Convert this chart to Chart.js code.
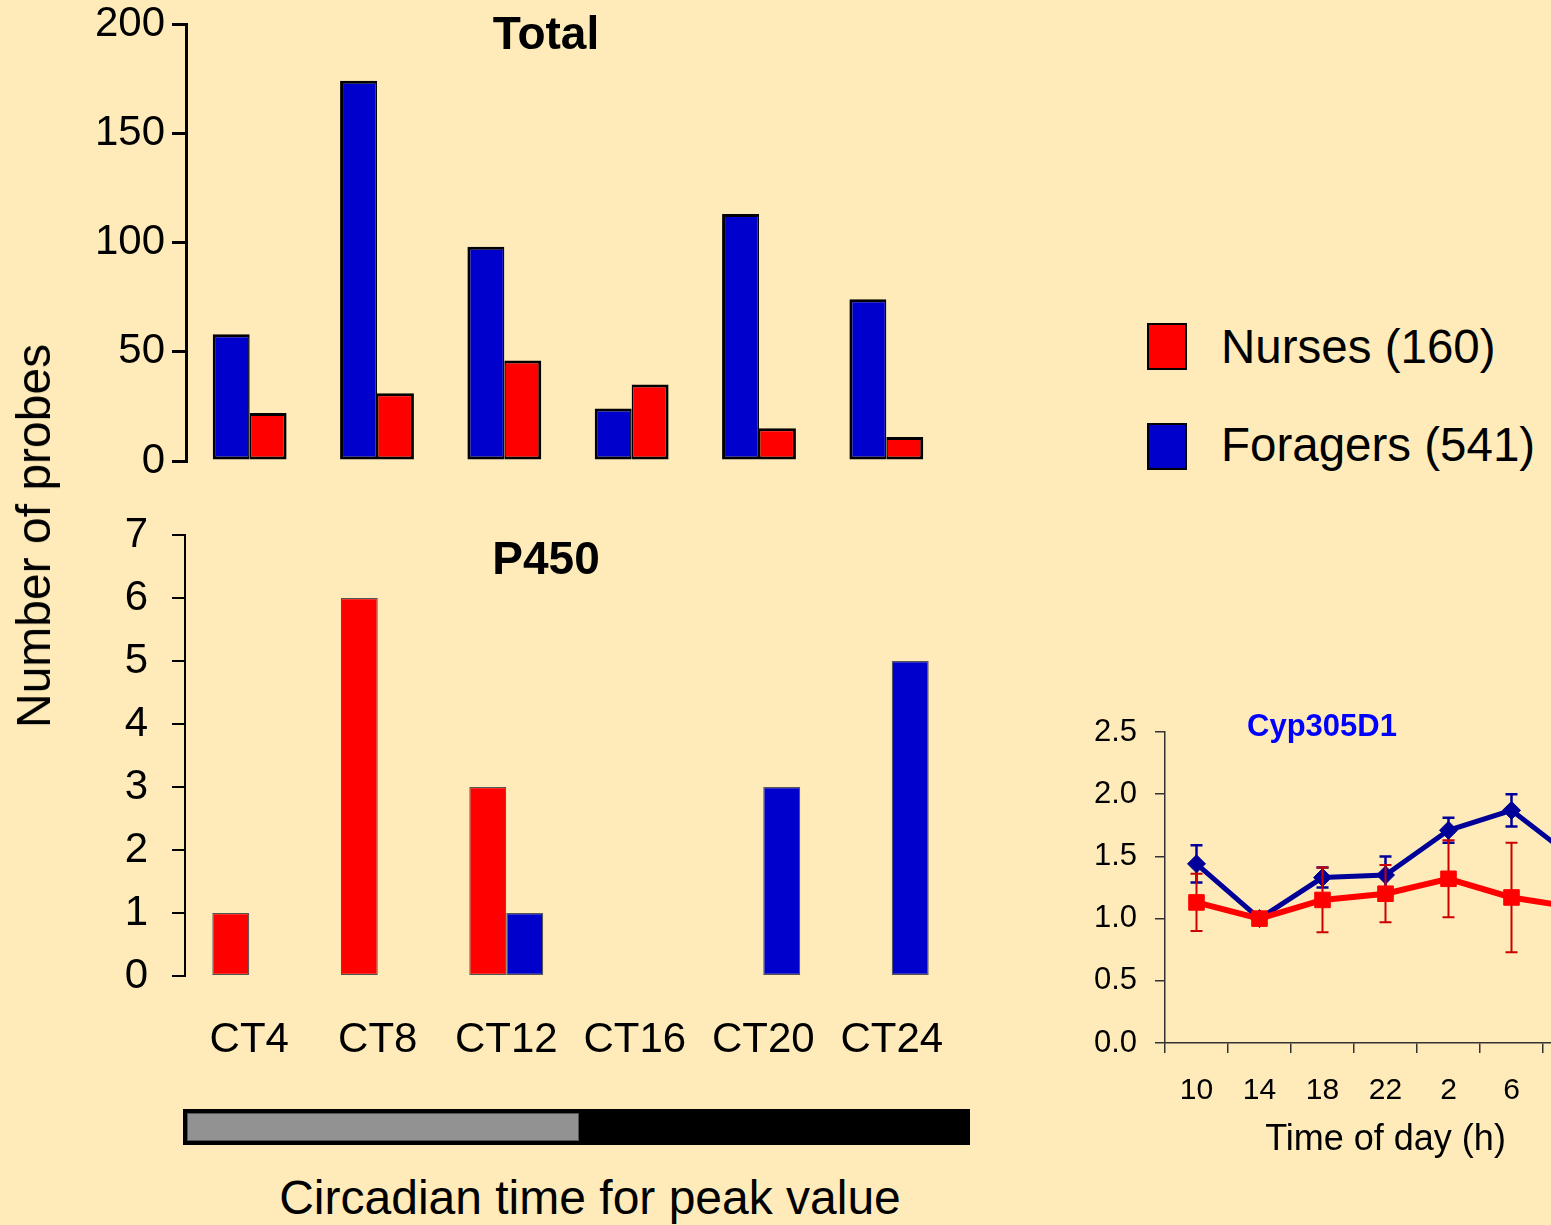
<!DOCTYPE html>
<html>
<head>
<meta charset="utf-8">
<title>Number of probes by circadian time of peak</title>
<script src="https://cdn.jsdelivr.net/npm/chart.js@4.4.1/dist/chart.umd.min.js"></script>
<style>
  html, body { margin: 0; padding: 0; overflow: hidden; background: #FEEBB9; }
  #page { position: relative; width: 1551px; height: 1225px; overflow: hidden; background: #FEEBB9;
          font-family: "Liberation Sans", Arial, sans-serif; color: #000; }
  #page canvas { position: absolute; }
  .txt { position: absolute; white-space: nowrap; line-height: 1; }
  .swatch { position: absolute; box-sizing: border-box; border: 2px solid #000; }
</style>
</head>
<body>
<div id="page">
  <canvas id="totalChart" width="960" height="480" style="left:0;top:0"></canvas>
  <canvas id="p450Chart" width="970" height="580" style="left:0;top:500px"></canvas>
  <canvas id="cypChart" width="560" height="480" style="left:1070px;top:700px"></canvas>

  <!-- light / dark phase bar under the circadian axis -->
  <div style="position:absolute;left:183px;top:1109px;width:787px;height:36px;background:#000;"></div>
  <div style="position:absolute;left:187px;top:1113px;width:392px;height:28px;background:#929292;box-sizing:border-box;border:1px solid #555;"></div>
</div>

<script>
// ---- circadian peak counts ----
const ctLabels = ['CT4', 'CT8', 'CT12', 'CT16', 'CT20', 'CT24'];
const totalNurses   = [22, 31, 46, 35, 15, 11];
const totalForagers = [58, 174, 98, 24, 113, 74];
const p450Nurses    = [1, 6, 3, 0, 0, 0];
const p450Foragers  = [0, 0, 1, 0, 3, 5];
const totalTicks = [0, 50, 100, 150, 200];
const p450Ticks  = [0, 1, 2, 3, 4, 5, 6, 7];

// ---- Cyp305D1 relative expression over the day ----
const timeLabels     = ['10', '14', '18', '22', '2', '6', '10'];
const cypNurses      = [1.13, 1.00, 1.15, 1.20, 1.32, 1.17, 1.09];
const cypNursesErr   = [0.23, 0.02, 0.26, 0.23, 0.31, 0.44, 0.20];
const cypForagers    = [1.44, 1.00, 1.33, 1.35, 1.71, 1.87, 1.48];
const cypForagersErr = [0.15, 0.03, 0.08, 0.15, 0.10, 0.13, 0.10];
const cypTicks = [0, 0.5, 1.0, 1.5, 2.0, 2.5];

const NURSE_RED = '#FF0000';
const FORAGER_BLUE = '#0000CC';
const FONT = '"Liberation Sans", Arial, sans-serif';

Chart.defaults.font.family = FONT;
Chart.defaults.color = '#000';
Chart.defaults.animation = false;

const sum = a => a.reduce((s, v) => s + v, 0);
const seriesNames = {
  nurses: `Nurses (${sum(totalNurses)})`,
  foragers: `Foragers (${sum(totalForagers)})`
};

// Pin axis thickness and drop the label overhang so plot areas line up across panels.
function fixAxis(size) {
  return function (scale) {
    scale.paddingTop = 0; scale.paddingBottom = 0;
    scale.paddingLeft = 0; scale.paddingRight = 0;
    if (size != null) {
      if (scale.isHorizontal()) scale.height = size; else scale.width = size;
    }
  };
}
const useTicks = values => scale => { scale.ticks = values.map(v => ({ value: v })); };

const noPlugins = { legend: { display: false }, tooltip: { enabled: false } };

// ---- Total panel ----
new Chart(document.getElementById('totalChart'), {
  type: 'bar',
  data: {
    labels: ctLabels,
    datasets: [
      { label: seriesNames.foragers, data: totalForagers, backgroundColor: FORAGER_BLUE,
        borderColor: '#000', borderWidth: { left: 3, top: 3, bottom: 3, right: 1.5 }, borderSkipped: false },
      { label: seriesNames.nurses, data: totalNurses, backgroundColor: NURSE_RED,
        borderColor: '#000', borderWidth: { left: 1.5, top: 3, bottom: 3, right: 3 }, borderSkipped: false }
    ]
  },
  options: {
    responsive: false,
    layout: { padding: { top: 24, bottom: 19, left: 0, right: 10 } },
    datasets: { bar: { categoryPercentage: 0.58, barPercentage: 1.0 } },
    scales: {
      x: { display: false },
      y: {
        min: totalTicks[0], max: totalTicks[totalTicks.length - 1],
        afterBuildTicks: useTicks(totalTicks),
        afterFit: fixAxis(186),
        border: { display: true, color: '#000', width: 3 },
        grid: { drawOnChartArea: false, drawTicks: true, tickLength: 14, color: '#000', lineWidth: 3 },
        ticks: { font: { size: 42 }, padding: 7, color: '#000' }
      }
    },
    plugins: noPlugins
  }
});

// ---- P450 panel ----
new Chart(document.getElementById('p450Chart'), {
  type: 'bar',
  data: {
    labels: ctLabels,
    datasets: [
      { label: seriesNames.nurses, data: p450Nurses, backgroundColor: NURSE_RED,
        borderColor: '#555', borderWidth: 1.2, borderSkipped: false },
      { label: seriesNames.foragers, data: p450Foragers, backgroundColor: FORAGER_BLUE,
        borderColor: '#555', borderWidth: 1.2, borderSkipped: false }
    ]
  },
  options: {
    responsive: false,
    layout: { padding: { top: 35, bottom: 4, left: 0, right: 14 } },
    datasets: { bar: { categoryPercentage: 0.575, barPercentage: 1.0 } },
    scales: {
      x: {
        afterFit: fixAxis(100),
        border: { display: false },
        grid: { display: false, drawTicks: false },
        ticks: { font: { size: 42 }, padding: 39, maxRotation: 0, autoSkip: false, color: '#000' }
      },
      y: {
        min: p450Ticks[0], max: p450Ticks[p450Ticks.length - 1],
        afterBuildTicks: useTicks(p450Ticks),
        afterFit: fixAxis(185),
        border: { display: true, color: '#000', width: 2 },
        grid: { drawOnChartArea: false, drawTicks: true, tickLength: 13, color: '#000', lineWidth: 2 },
        ticks: { font: { size: 42 }, padding: 24, color: '#000' }
      }
    },
    plugins: noPlugins
  }
});

// ---- Cyp305D1 time course with error bars ----
const errorBars = {
  id: 'errorBars',
  beforeDatasetDraw(chart, args) {
    const ds = chart.data.datasets[args.index];
    if (!ds.errors) return;
    const y = chart.scales.y, ctx = chart.ctx, cap = 6;
    ctx.save();
    ctx.strokeStyle = ds.errorColor;
    ctx.lineWidth = ds.errorWidth;
    args.meta.data.forEach((pt, i) => {
      const v = ds.data[i], e = ds.errors[i];
      const top = y.getPixelForValue(v + e), bot = y.getPixelForValue(v - e);
      ctx.beginPath();
      ctx.moveTo(pt.x, top); ctx.lineTo(pt.x, bot);
      ctx.moveTo(pt.x - cap, top); ctx.lineTo(pt.x + cap, top);
      ctx.moveTo(pt.x - cap, bot); ctx.lineTo(pt.x + cap, bot);
      ctx.stroke();
    });
    ctx.restore();
  }
};

new Chart(document.getElementById('cypChart'), {
  type: 'line',
  data: {
    labels: timeLabels,
    datasets: [
      { label: 'Nurses', data: cypNurses, errors: cypNursesErr, errorColor: '#CC0000', errorWidth: 2,
        borderColor: NURSE_RED, backgroundColor: NURSE_RED, borderWidth: 6,
        pointStyle: 'rect', pointRadius: 11, pointBorderWidth: 1, tension: 0 },
      { label: 'Foragers', data: cypForagers, errors: cypForagersErr, errorColor: '#000099', errorWidth: 2.5,
        borderColor: '#000099', backgroundColor: '#000099', borderWidth: 5,
        pointStyle: 'rectRot', pointRadius: 9, pointBorderWidth: 1, tension: 0 }
    ]
  },
  options: {
    responsive: false,
    layout: { padding: { top: 32, bottom: 7, left: 0, right: 24 } },
    scales: {
      x: {
        offset: true,
        afterFit: fixAxis(130),
        border: { display: true, color: '#333', width: 1.5 },
        grid: { offset: true, drawOnChartArea: false, drawTicks: true, tickLength: 10, color: '#333', lineWidth: 1.5 },
        ticks: { font: { size: 30 }, padding: 20, maxRotation: 0, autoSkip: false, color: '#000' },
        title: { display: true, text: 'Time of day (h)', font: { size: 36 }, color: '#000',
                 padding: { top: 0, bottom: 11 } }
      },
      y: {
        min: cypTicks[0], max: cypTicks[cypTicks.length - 1],
        afterBuildTicks: useTicks(cypTicks),
        afterFit: fixAxis(95),
        border: { display: true, color: '#333', width: 1.5 },
        grid: { drawOnChartArea: false, drawTicks: true, tickLength: 10, color: '#333', lineWidth: 1.5 },
        ticks: { font: { size: 31 }, padding: 18, color: '#000', callback: v => Number(v).toFixed(1) }
      }
    },
    plugins: noPlugins
  },
  plugins: [errorBars]
});

// ---- text labels and legend ----
const page = document.getElementById('page');
function addText(text, x, y, css, anchor) {
  const d = document.createElement('div');
  d.className = 'txt';
  d.textContent = text;
  d.style.left = x + 'px';
  d.style.top = y + 'px';
  d.style.cssText += css;
  d.style.transform = anchor === 'left' ? 'translateY(-50%)' : 'translate(-50%,-50%)';
  page.appendChild(d);
  return d;
}
function addSwatch(color, x, y) {
  const s = document.createElement('div');
  s.className = 'swatch';
  s.style.cssText += `left:${x}px;top:${y}px;width:40px;height:47px;background:${color};`;
  page.appendChild(s);
}

addText('Total', 546, 33, 'font-size:46px;font-weight:bold;');
addText('P450', 546, 558, 'font-size:46px;font-weight:bold;');
const yTitle = addText('Number of probes', 34, 536, 'font-size:48px;');
yTitle.style.transform = 'translate(-50%,-50%) rotate(-90deg)';
addText('Circadian time for peak value', 590, 1198, 'font-size:48px;');
addText('Cyp305D1', 1322, 725, 'font-size:31px;font-weight:bold;color:#0000FF;');

addSwatch(NURSE_RED, 1147, 323);
addText(seriesNames.nurses, 1221, 347, 'font-size:47.5px;', 'left');
addSwatch(FORAGER_BLUE, 1147, 423);
addText(seriesNames.foragers, 1221, 445, 'font-size:47.5px;', 'left');
</script>
</body>
</html>
